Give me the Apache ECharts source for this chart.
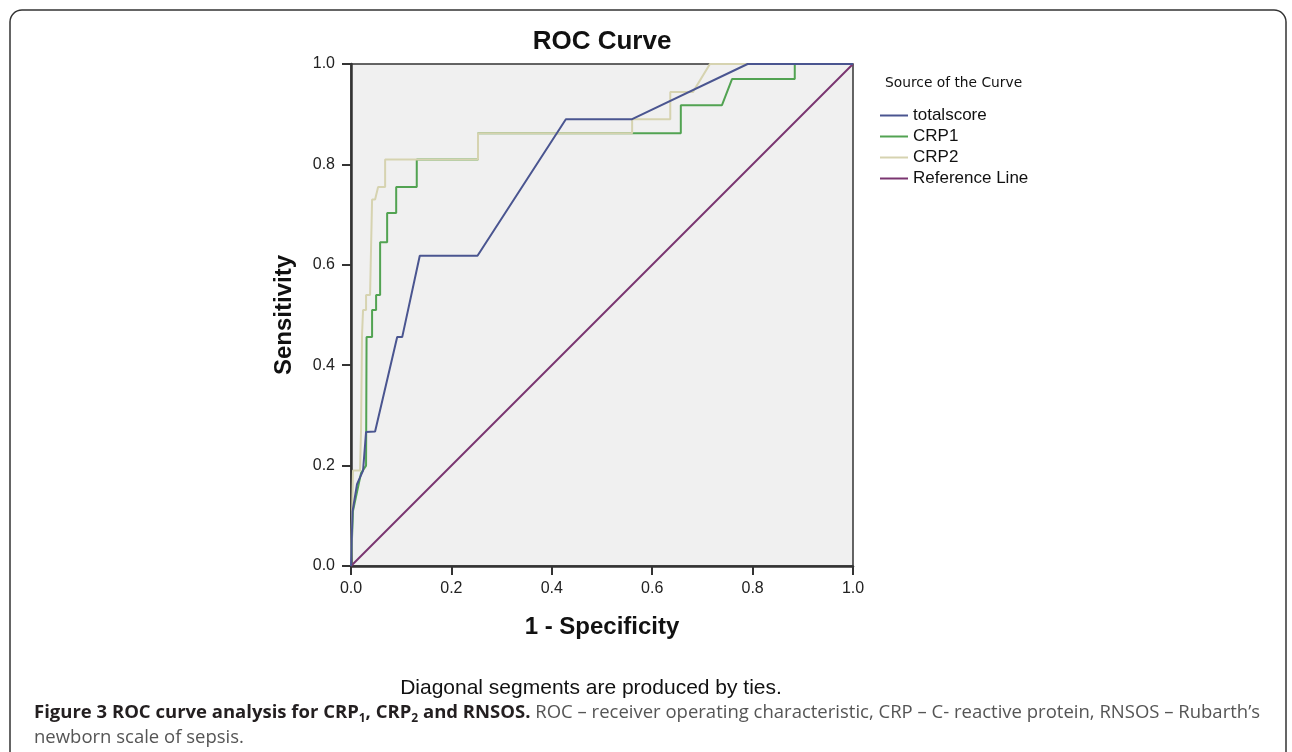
<!DOCTYPE html>
<html>
<head>
<meta charset="utf-8">
<script src="https://cdn.jsdelivr.net/npm/echarts@6/dist/echarts.min.js"></script>
<style>
html,body{margin:0;padding:0;background:#fff;}
#c{width:1292px;height:752px;}
</style>
</head>
<body>
<div id="c"></div>
<script>
// ---- data (1 - specificity, sensitivity) ----
const seriesNames = ['totalscore', 'CRP1', 'CRP2', 'Reference Line'];
const totalscorePts = [[0,0],[0.003,0.108],[0.012,0.163],[0.024,0.19],[0.03,0.267],[0.048,0.268],[0.092,0.456],[0.102,0.456],[0.137,0.618],[0.252,0.618],[0.428,0.89],[0.56,0.89],[0.79,1.0],[1,1]];
const crp1Pts = [[0,0],[0.004,0.11],[0.02,0.185],[0.03,0.2],[0.031,0.456],[0.042,0.456],[0.042,0.51],[0.05,0.51],[0.05,0.54],[0.058,0.54],[0.058,0.645],[0.072,0.645],[0.072,0.703],[0.09,0.703],[0.09,0.755],[0.131,0.755],[0.131,0.81],[0.253,0.81],[0.253,0.862],[0.657,0.862],[0.657,0.918],[0.739,0.918],[0.759,0.97],[0.884,0.97],[0.884,1],[1,1]];
const crp2Pts = [[0,0],[0.004,0.19],[0.018,0.19],[0.02,0.27],[0.022,0.46],[0.024,0.51],[0.03,0.51],[0.03,0.54],[0.038,0.54],[0.042,0.73],[0.048,0.73],[0.054,0.755],[0.068,0.755],[0.068,0.81],[0.253,0.81],[0.253,0.862],[0.56,0.862],[0.56,0.89],[0.636,0.89],[0.636,0.944],[0.681,0.944],[0.715,1],[1,1]];
const referencePts = [[0,0],[1,1]];

const colors = {
  totalscore: '#4a5590',
  CRP1: '#52a352',
  CRP2: '#d6d3b0',
  ref: '#7a3570'
};

const chart = echarts.init(document.getElementById('c'), null, {renderer: 'canvas'});
const fontMain = 'Liberation Sans, Arial, sans-serif';

function lineSeries(name, data, color, z) {
  return {
    name: name, type: 'line', data: data, showSymbol: false, symbol: 'none',
    z: z, animation: false,
    lineStyle: {color: color, width: 2},
    itemStyle: {color: color},
    emphasis: {disabled: true}
  };
}

chart.setOption({
  animation: false,
  backgroundColor: '#ffffff',
  title: {
    text: 'ROC Curve', left: 597, top: 24, textAlign: 'center',
    textStyle: {fontFamily: fontMain, fontSize: 26, fontWeight: 'bold', color: '#111'}
  },
  legend: {
    orient: 'vertical', left: 875, top: 102,
    data: seriesNames,
    icon: 'rect', itemWidth: 28, itemHeight: 2, itemGap: 4,
    textStyle: {fontFamily: fontMain, fontSize: 17, color: '#111'},
    selectedMode: false
  },
  grid: {
    left: 351, top: 64, width: 502, height: 502,
    show: true, backgroundColor: '#f0f0f0', borderColor: '#333', borderWidth: 1.5
  },
  xAxis: {
    type: 'value', min: 0, max: 1, interval: 0.2,
    name: '1 - Specificity', nameLocation: 'middle', nameGap: 49,
    nameTextStyle: {fontFamily: fontMain, fontSize: 24, fontWeight: 'bold', color: '#111'},
    axisLine: {show: true, onZero: false, lineStyle: {color: '#333', width: 2.5}},
    axisTick: {show: true, length: 9, lineStyle: {color: '#333', width: 2}},
    axisLabel: {margin: 15, fontFamily: fontMain, fontSize: 16, color: '#222',
      formatter: v => v.toFixed(1)},
    splitLine: {show: false}
  },
  yAxis: {
    type: 'value', min: 0, max: 1, interval: 0.2,
    name: 'Sensitivity', nameLocation: 'middle', nameGap: 55,
    nameTextStyle: {fontFamily: fontMain, fontSize: 24, fontWeight: 'bold', color: '#111'},
    axisLine: {show: true, onZero: false, lineStyle: {color: '#333', width: 2.5}},
    axisTick: {show: true, length: 9, lineStyle: {color: '#333', width: 2}},
    axisLabel: {margin: 16, fontFamily: fontMain, fontSize: 16, color: '#222',
      formatter: v => v.toFixed(1)},
    splitLine: {show: false}
  },
  series: [
    lineSeries('totalscore', totalscorePts, colors.totalscore, 5),
    lineSeries('CRP1', crp1Pts, colors.CRP1, 3),
    lineSeries('CRP2', crp2Pts, colors.CRP2, 4),
    lineSeries('Reference Line', referencePts, colors.ref, 2)
  ],
  graphic: [
    {type: 'rect', shape: {x: 10, y: 10, width: 1276, height: 800, r: 12},
      style: {fill: 'none', stroke: '#333', lineWidth: 1.5}, silent: true},
    {type: 'text', x: 885, y: 83,
      style: {text: 'Source of the Curve', font: '13.8px "DejaVu Sans", sans-serif', fill: '#111', verticalAlign: 'middle'}},
    {type: 'text', x: 591, y: 688,
      style: {text: 'Diagonal segments are produced by ties.', font: '21px "Liberation Sans", Arial, sans-serif',
        fill: '#111', align: 'center', verticalAlign: 'middle'}},
    {type: 'text', x: 34, y: 713,
      style: {
        text: '{b|Figure 3 ROC curve analysis for CRP}{bs|1}{b|, CRP}{bs|2}{b| and RNSOS.}{n| ROC – receiver operating characteristic, CRP – C- reactive protein, RNSOS – Rubarth\u2019s}',
        verticalAlign: 'middle',
        rich: {
          b: {fontFamily: 'Open Sans', fontSize: 18.5, fontWeight: 'bold', fill: '#231f20', lineHeight: 24},
          bs: {fontFamily: 'Open Sans', fontSize: 12, fontWeight: 'bold', fill: '#231f20', lineHeight: 12, verticalAlign: 'bottom'},
          n: {fontFamily: 'Open Sans', fontSize: 18.5, fill: '#555', lineHeight: 24}
        }
      }},
    {type: 'text', x: 34, y: 738,
      style: {text: 'newborn scale of sepsis.', font: '18.5px "Open Sans", sans-serif', fill: '#555', verticalAlign: 'middle'}}
  ]
});
</script>
</body>
</html>
